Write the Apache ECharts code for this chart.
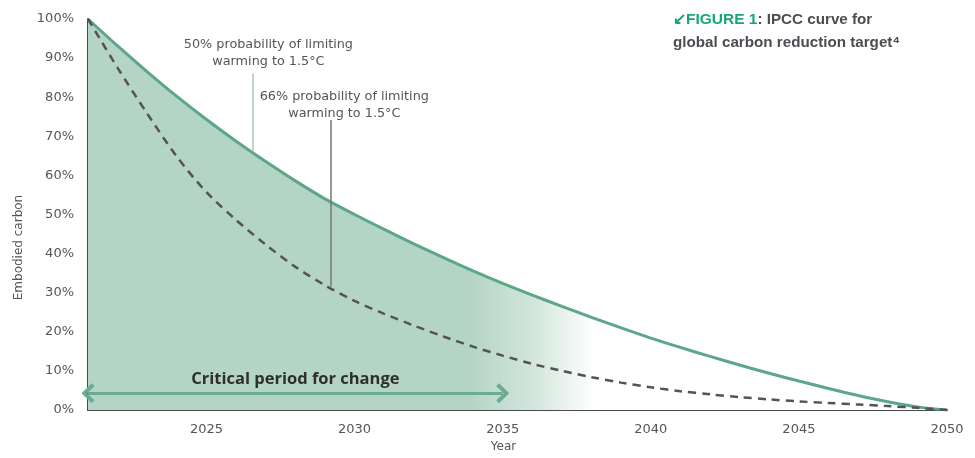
<!DOCTYPE html>
<html>
<head>
<meta charset="utf-8">
<script src="https://cdn.jsdelivr.net/npm/echarts@6/dist/echarts.min.js"></script>
<style>html,body{margin:0;padding:0;background:#fff}#c{width:975px;height:458px}</style>
</head>
<body>
<div id="c"></div>
<script>
// ---- data ----
const years = [2021,2022,2023,2024,2025,2026,2027,2028,2029,2030,2031,2032,2033,2034,2035,2036,2037,2038,2039,2040,2041,2042,2043,2044,2045,2046,2047,2048,2049,2050];
const prob50 = [100,93.1,86.5,80.2,74.3,68.75,63.55,58.6,54.0,50.0,46.2,42.5,39.0,35.6,32.4,29.4,26.5,23.7,21.0,18.4,16.0,13.7,11.5,9.4,7.4,5.5,3.7,2.1,0.8,0];
const prob66 = [100,87.5,75.8,64.8,55.7,48.6,42.3,36.6,31.9,27.9,24.6,21.6,18.8,16.2,13.9,11.8,10.0,8.4,7.0,5.8,4.8,4.0,3.3,2.7,2.2,1.8,1.4,1.0,0.55,0];
const xTickLabels = [2025,2030,2035,2040,2045,2050];
const criticalPeriod = [2021, 2035];
const criticalLevel = 4.3;
const note50 = {text: '50% probability of limiting\nwarming to 1.5°C', year: 2026.55, top: 86, bottom: 66.2};
const note66 = {text: '66% probability of limiting\nwarming to 1.5°C', year: 2029.18, top: 74.2, bottom: 31.6};
const titleLine1a = '↙FIGURE 1';
const titleLine1b = ': IPCC curve for';
const titleLine2 = 'global carbon reduction target⁴';

const chart = echarts.init(document.getElementById('c'), null, {renderer: 'canvas'});
const txt = '#555';
const fontFam = '"DejaVu Sans", sans-serif';
const boldFam = '"Open Sans", "Noto Sans", sans-serif';
const titleFam = '"Liberation Sans", Arial, sans-serif';

const option = {
  animation: false,
  backgroundColor: '#fff',
  title: {
    left: 668, top: 3,
    text: '{g|' + titleLine1a + '}{d|' + titleLine1b + '}\n{d|' + titleLine2 + '}',
    textStyle: {
      fontFamily: titleFam,
      lineHeight: 23,
      rich: {
        g: {color: '#19a57a', fontWeight: 'bold', fontSize: 15.5, fontFamily: titleFam, lineHeight: 23},
        d: {color: '#4a4d52', fontWeight: 'bold', fontSize: 15.2, fontFamily: titleFam, lineHeight: 23}
      }
    }
  },
  grid: {left: 88, right: 28, top: 19, bottom: 45, containLabel: false},
  xAxis: {
    type: 'value', min: 2021, max: 2050,
    name: 'Year', nameLocation: 'middle', nameGap: 31,
    nameTextStyle: {color: txt, fontSize: 12, fontFamily: fontFam, padding: [0, 28, 0, 0]},
    axisLine: {show: true, lineStyle: {color: '#4a4a4a', width: 2}},
    axisTick: {show: false},
    splitLine: {show: false},
    axisLabel: {color: txt, fontSize: 13, fontFamily: fontFam, margin: 13, customValues: xTickLabels, formatter: v => String(v)}
  },
  yAxis: {
    type: 'value', min: 0, max: 100, interval: 10,
    name: 'Embodied carbon', nameLocation: 'middle', nameGap: 63, nameRotate: 90,
    nameTextStyle: {color: txt, fontSize: 12, fontFamily: fontFam, padding: [0, 66, 0, 0]},
    axisLine: {show: true, lineStyle: {color: '#4a4a4a', width: 2}},
    axisTick: {show: false},
    splitLine: {show: false},
    axisLabel: {color: txt, fontSize: 13, fontFamily: fontFam, margin: 14, formatter: '{value}%'}
  },
  series: [
    {
      type: 'line', name: '50%', smooth: 0.3, symbol: 'none',
      data: years.map((y, i) => [y, prob50[i]]),
      lineStyle: {color: '#5ca886', width: 3},
      areaStyle: {
        opacity: 1,
        color: new echarts.graphic.LinearGradient(470, 0, 595, 0, [
          {offset: 0, color: 'rgba(180,212,198,1)'},
          {offset: 0.5, color: 'rgba(210,229,220,1)'},
          {offset: 1, color: 'rgba(255,255,255,1)'}
        ], true)
      },
      z: 2
    },
    {
      type: 'line', name: '66%', smooth: 0.3, symbol: 'none',
      data: years.map((y, i) => [y, prob66[i]]),
      lineStyle: {color: '#545454', width: 2.5, type: [8, 6]},
      z: 3,
      markLine: {
        silent: true, symbol: 'none', animation: false,
        label: {show: false},
        data: [
          [{coord: [note50.year, note50.top], lineStyle: {color: '#a6c9b9', width: 1.5, type: 'solid'}},
           {coord: [note50.year, note50.bottom]}],
          [{coord: [note66.year, note66.top], lineStyle: {color: '#777', width: 1.5, type: 'solid'}},
           {coord: [note66.year, note66.bottom]}]
        ]
      }
    },
    {
      type: 'line', name: 'critical', data: [], symbol: 'none', z: 4,
      markLine: {
        silent: true, animation: false,
        symbol: ['path://M10,0 L20,11 L17,14 L10,6 L3,14 L0,11 Z', 'path://M10,0 L20,11 L17,14 L10,6 L3,14 L0,11 Z'],
        symbolSize: [20, 13],
        lineStyle: {color: '#6aac90', width: 3, type: 'solid'},
        label: {
          show: true, position: 'middle', formatter: 'Critical period for change',
          color: '#2e2e2e', fontSize: 16.5, fontWeight: 'bold', fontFamily: boldFam, distance: 5
        },
        data: [[{coord: [criticalPeriod[0], criticalLevel]}, {coord: [criticalPeriod[1], criticalLevel]}]]
      }
    }
  ]
};
chart.setOption(option);

const p50 = chart.convertToPixel({gridIndex: 0}, [note50.year, note50.top]);
const p66 = chart.convertToPixel({gridIndex: 0}, [note66.year, note66.top]);
chart.setOption({
  graphic: [
    {type: 'text', x: p50[0] + 16, y: p50[1] - 38, style: {text: note50.text, fill: '#555', font: '12.8px ' + fontFam, align: 'center', lineHeight: 17}},
    {type: 'text', x: p66[0] + 14, y: p66[1] - 32, style: {text: note66.text, fill: '#555', font: '12.8px ' + fontFam, align: 'center', lineHeight: 17}}
  ]
});
</script>
</body>
</html>
